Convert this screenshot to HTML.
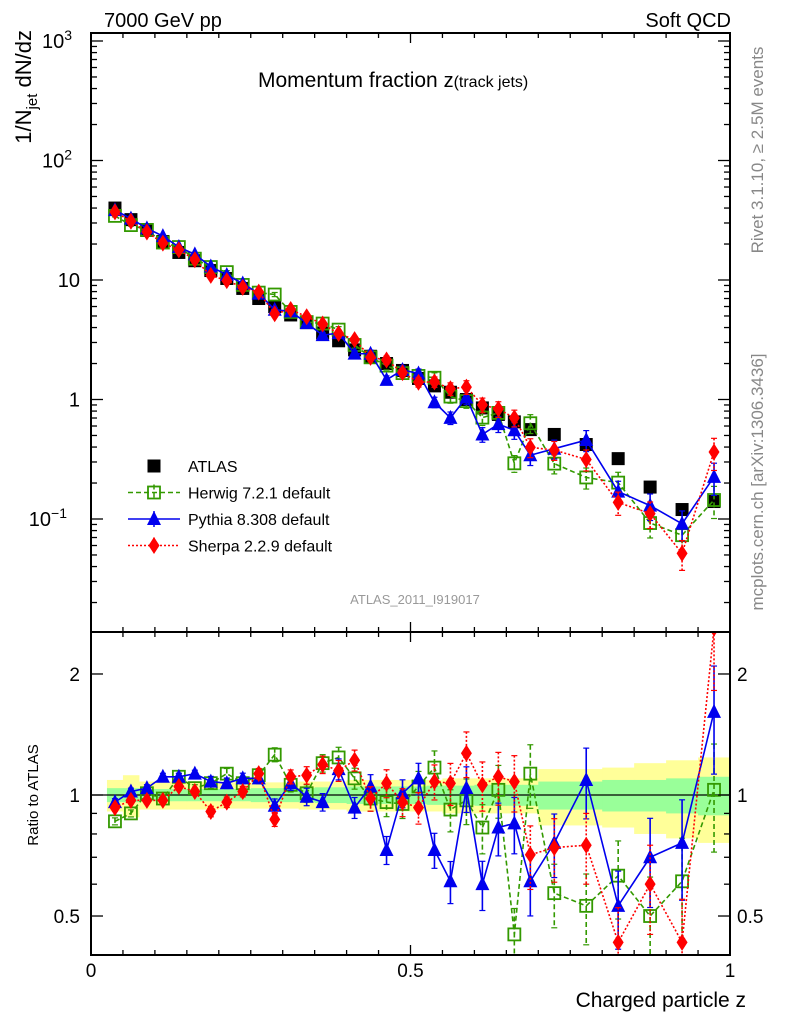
<!DOCTYPE html>
<html><head><meta charset="utf-8">
<style>
body{margin:0;background:#fff;}
svg{display:block;font-family:"Liberation Sans",sans-serif;}
</style></head>
<body>
<svg id="chart" width="786" height="1024" viewBox="0 0 786 1024">
</svg>
<script>
const binEdges=[0.025,0.05,0.075,0.1,0.125,0.15,0.175,0.2,0.225,0.25,0.275,0.3,0.325,0.35,0.375,0.4,0.425,0.45,0.475,0.5,0.525,0.55,0.575,0.6,0.625,0.65,0.675,0.7,0.75,0.8,0.85,0.9,0.95,1.0];
const atlas=[40,32,26,21,17,14.5,12,10.3,8.5,7,6,5.1,4.4,3.6,3.1,2.6,2.3,2.0,1.75,1.5,1.3,1.15,1.0,0.85,0.75,0.65,0.56,0.51,0.42,0.32,0.185,0.12,0.14];
const herwigRatio=[0.86,0.90,1.01,0.98,1.11,1.04,1.07,1.13,1.07,1.12,1.26,1.06,1.01,1.20,1.24,1.10,0.98,0.96,0.95,1.05,1.17,0.92,0.97,0.83,1.03,0.45,1.13,0.57,0.53,0.63,0.50,0.61,1.03];
const pythiaRatio=[0.96,1.02,1.04,1.11,1.11,1.13,1.08,1.07,1.10,1.10,0.94,1.07,0.99,0.96,1.16,0.93,1.05,0.73,1.01,1.10,0.73,0.61,1.04,0.60,0.83,0.85,0.61,0.76,1.09,0.53,0.70,0.76,1.61];
const sherpaRatio=[0.93,0.97,0.97,0.97,1.05,1.02,0.91,0.96,1.02,1.13,0.87,1.11,1.12,1.19,1.15,1.22,0.98,1.07,0.96,0.93,1.08,1.07,1.27,1.06,1.11,1.08,0.71,0.74,0.75,0.43,0.60,0.43,2.6];
const mcErr=[0.02,0.02,0.02,0.02,0.02,0.02,0.03,0.03,0.03,0.03,0.04,0.04,0.05,0.05,0.06,0.06,0.07,0.08,0.08,0.09,0.1,0.12,0.13,0.14,0.15,0.16,0.18,0.18,0.2,0.22,0.25,0.28,0.3];
const greenHW=[0.04,0.04,0.035,0.035,0.035,0.035,0.035,0.035,0.035,0.04,0.04,0.04,0.04,0.045,0.045,0.05,0.05,0.05,0.05,0.05,0.055,0.055,0.055,0.06,0.06,0.06,0.06,0.08,0.08,0.09,0.09,0.1,0.11];
const yellowHW=[0.09,0.12,0.08,0.08,0.08,0.08,0.08,0.075,0.075,0.075,0.075,0.075,0.08,0.08,0.08,0.09,0.09,0.09,0.09,0.09,0.09,0.1,0.1,0.1,0.1,0.1,0.1,0.16,0.16,0.17,0.2,0.22,0.24];
const xTicks=[0,0.5,1];
const ratioTicks=[0.5,1,2];

const NS="http://www.w3.org/2000/svg";
const svg=document.getElementById('chart');
const L=91,R=730,T=33,MB=632,RB=955;
const X=z=>L+(R-L)*z;
const Y=v=>399.5-119.5*Math.log10(v);
const YR=r=>795-402*Math.log10(r);
function el(tag,attrs,parent){const e=document.createElementNS(NS,tag);for(const k in attrs)e.setAttribute(k,attrs[k]);(parent||svg).appendChild(e);return e;}
function txt(s,attrs,parent){const e=el('text',attrs,parent);e.textContent=s;return e;}
const centers=binEdges.slice(0,-1).map((e,i)=>(e+binEdges[i+1])/2);

const bands=el('g',{});


for(let i=0;i<centers.length;i++){
  const x0=X(binEdges[i]),x1=X(binEdges[i+1]);
  const ry=el('rect',{x:x0,y:YR(1+yellowHW[i]),width:x1-x0+0.5,height:YR(1-yellowHW[i])-YR(1+yellowHW[i]),fill:'#ffff99'},bands);
  
  
}
for(let i=0;i<centers.length;i++){
  const x0=X(binEdges[i]),x1=X(binEdges[i+1]);
  const rg=el('rect',{x:x0,y:YR(1+greenHW[i]),width:x1-x0+0.5,height:YR(1-greenHW[i])-YR(1+greenHW[i]),fill:'#99ff99'},bands);
  
  
}
el('line',{x1:L,x2:R,y1:YR(1),y2:YR(1),stroke:'#000','stroke-width':1.3});

const defs=el('defs',{});
const c1=el('clipPath',{id:'cm'},defs);el('rect',{x:L,y:T,width:R-L,height:MB-T},c1);
const c2=el('clipPath',{id:'cr'},defs);el('rect',{x:L,y:MB,width:R-L,height:RB-MB},c2);

const series=[
 {name:'herwig',ratio:herwigRatio,color:'#339900',dash:'5,3',marker:'square'},
 {name:'pythia',ratio:pythiaRatio,color:'#0000ee',dash:'',marker:'triangle'},
 {name:'sherpa',ratio:sherpaRatio,color:'#ff0000',dash:'2,2',marker:'diamond'}
];
function marker(type,x,y,color,g){
  if(type==='square')return el('rect',{x:x-6,y:y-6,width:12,height:12,fill:'none',stroke:color,'stroke-width':1.8},g);
  if(type==='triangle')return el('polygon',{points:`${x},${y-8} ${x-7},${y+6} ${x+7},${y+6}`,fill:color},g);
  if(type==='diamond')return el('polygon',{points:`${x},${y-8.5} ${x-5.5},${y} ${x},${y+8.5} ${x+5.5},${y}`,fill:color},g);
  return el('rect',{x:x-6.5,y:y-6.5,width:13,height:13,fill:'#000'},g);
}
function drawSeries(s,main){
  const g=el('g',{'clip-path':main?'url(#cm)':'url(#cr)'});
  
  
  const yf=main?(i=>Y(atlas[i]*s.ratio[i])):(i=>YR(s.ratio[i]));
  const yv=main?(i=>atlas[i]*s.ratio[i]):(i=>s.ratio[i]);
  const yfun=main?Y:YR;
  const pts=centers.map((c,i)=>`${X(c)},${yf(i)}`).join(' ');
  el('polyline',{points:pts,fill:'none',stroke:s.color,'stroke-width':1.6,'stroke-dasharray':s.dash},g);
  centers.forEach((c,i)=>{
    const v=yv(i),e=mcErr[i]*v;
    const y1=yfun(v+e),y2=yfun(Math.max(v-e,1e-4));
    el('line',{x1:X(c),x2:X(c),y1:y1,y2:y2,stroke:s.color,'stroke-width':1.6,'stroke-dasharray':s.dash},g);
    el('line',{x1:X(c)-3,x2:X(c)+3,y1:y1,y2:y1,stroke:s.color,'stroke-width':1.2},g);
    el('line',{x1:X(c)-3,x2:X(c)+3,y1:y2,y2:y2,stroke:s.color,'stroke-width':1.2},g);
    const m=marker(s.marker,X(c),yf(i),s.color,g);
    
    
  });
}
const ga=el('g',{'clip-path':'url(#cm)'});


centers.forEach((c,i)=>{
  const m=marker('data',X(c),Y(atlas[i]),'#000',ga);
  
  
});
series.forEach(s=>drawSeries(s,true));
series.forEach(s=>drawSeries(s,false));

el('rect',{x:L,y:T,width:R-L,height:MB-T,fill:'none',stroke:'#000','stroke-width':2});
el('rect',{x:L,y:MB,width:R-L,height:RB-MB,fill:'none',stroke:'#000','stroke-width':2});

for(let k=0;k<=20;k++){
  const z=k*0.05,x=X(z),len=(k%10===0)?10:5;
  [[T,1],[MB,-1],[MB,1],[RB,-1]].forEach(([y,d])=>el('line',{x1:x,x2:x,y1:y,y2:y+d*len,stroke:'#000','stroke-width':1.3}));
}
xTicks.forEach(t=>{const e=txt(String(t),{x:X(t),y:977,'font-size':19,'text-anchor':'middle'});
});

for(let d=-2;d<=3;d++){
  for(let m=1;m<=9;m++){
    const v=m*Math.pow(10,d),y=Y(v);
    if(y<T||y>MB)continue;
    const len=m===1?12:6;
    el('line',{x1:L,x2:L+len,y1:y,y2:y,stroke:'#000','stroke-width':1.3});
    el('line',{x1:R,x2:R-len,y1:y,y2:y,stroke:'#000','stroke-width':1.3});
  }
}
const ylabs=[[3,'10','3'],[2,'10','2'],[1,'10',''],[0,'1',''],[-1,'10','−1']];
ylabs.forEach(([d,b,s])=>{
  const y=Y(Math.pow(10,d))+7;
  const t=el('text',{x:s?(s.length>1?67:72):80,y:y,'font-size':20,'text-anchor':'end'});
  
  t.textContent=b;
  if(s){const ts=el('tspan',{dy:-8,'font-size':14},t);ts.textContent=s;}
});
for(const v of [0.4,0.5,0.6,0.7,0.8,0.9,1,2]){
  const y=YR(v);const len=(v===0.5||v===1||v===2)?12:6;
  el('line',{x1:L,x2:L+len,y1:y,y2:y,stroke:'#000','stroke-width':1.3});
  el('line',{x1:R,x2:R-len,y1:y,y2:y,stroke:'#000','stroke-width':1.3});
}
ratioTicks.forEach(t=>{
  const a=txt(String(t),{x:80,y:YR(t)+7,'font-size':19,'text-anchor':'end'});
  
  const b=txt(String(t),{x:737,y:YR(t)+7,'font-size':19,'text-anchor':'start'});
  
});

const lg=el('g',{});


const lrows=[['ATLAS','data','#000',''],['Herwig 7.2.1 default','square','#339900','5,3'],['Pythia 8.308 default','triangle','#0000ee',''],['Sherpa 2.2.9 default','diamond','#ff0000','2,2']];
lrows.forEach((r,i)=>{
  const y=466+i*26.5;
  const row=el('g',{},lg);
  
  
  if(i>0){el('line',{x1:128,x2:180,y1:y,y2:y,stroke:r[2],'stroke-width':1.5,'stroke-dasharray':r[3]},row);
    el('line',{x1:154,x2:154,y1:y-8,y2:y+8,stroke:r[2],'stroke-width':1.5,'stroke-dasharray':r[3]},row);}
  marker(r[1],154,y,r[2],row);
  txt(r[0],{x:188,y:y+6,'font-size':16},row);
});

function label(s,attrs,name){const e=txt(s,attrs);return e;}
label('7000 GeV pp',{x:104,y:27,'font-size':20},'energy-label');
label('Soft QCD',{x:731,y:27,'font-size':20,'text-anchor':'end'},'process-label');
const tt=label('Momentum fraction ',{x:258,y:87,'font-size':21},'plot-title');
const tz=el('tspan',{'font-size':20},tt);tz.textContent='z';
const ts=el('tspan',{'font-size':16},tt);ts.textContent='(track jets)';
label('ATLAS_2011_I919017',{x:415,y:604,'font-size':13,fill:'#999','text-anchor':'middle'},'analysis-id');
label('Charged particle z',{x:746,y:1007,'font-size':21,'text-anchor':'end'},'x-axis-title');
label('Ratio to ATLAS',{x:0,y:0,'font-size':15,'text-anchor':'middle',transform:'translate(38,795) rotate(-90)'},'ratio-axis-title');
const yt=label('1/N',{x:0,y:0,'font-size':22,'text-anchor':'end',transform:'translate(31,30) rotate(-90)'},'y-axis-title');
const s1=el('tspan',{'font-size':15,dy:6},yt);s1.textContent='jet';
const s2=el('tspan',{dy:-6},yt);s2.textContent=' dN/dz';
label('Rivet 3.1.10, ≥ 2.5M events',{x:0,y:0,'font-size':17,fill:'#888','text-anchor':'middle',transform:'translate(763,150) rotate(-90)'},'rivet-version-label');
label('mcplots.cern.ch [arXiv:1306.3436]',{x:0,y:0,'font-size':17,fill:'#888','text-anchor':'middle',transform:'translate(763,482) rotate(-90)'},'mcplots-label');
</script>
</body></html>
